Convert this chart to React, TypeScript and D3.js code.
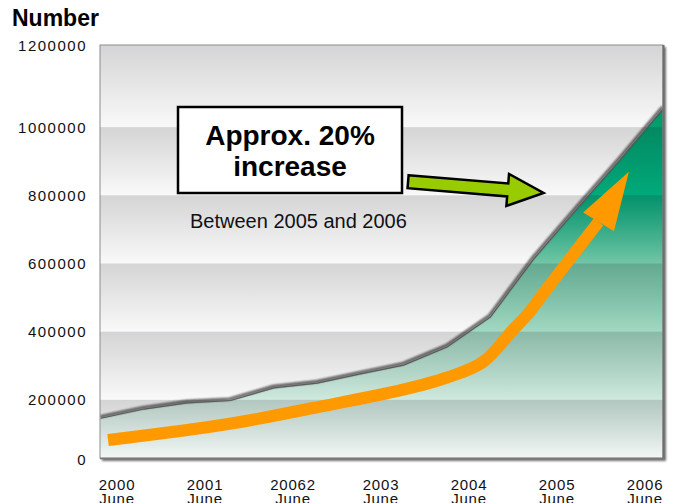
import React from "react";
import * as d3 from "d3";

// Cumulative count, one sample roughly every half year (Jun 2000 .. Jun 2006)
const counts = [
  146000, 173000, 191000, 198000, 235000, 249000, 276000,
  302000, 355000, 443000, 613000, 760000, 905000, 1055000,
];

// Category labels along the bottom
const yearLabels = ["2000", "2001", "20062", "2003", "2004", "2005", "2006"];
const monthLabel = "June";

// Axis ticks
const yTicks = [0, 200000, 400000, 600000, 800000, 1000000, 1200000];

// Trend arrow path in data units: [sample index, value]
const trendPath: [number, number][] = [
  [0.17, 82000], [2.94, 129000], [4.9, 176000], [6.96, 229000],
  [8.0, 265500], [8.83, 311000], [9.52, 405000], [9.91, 458000],
  [10.2, 508000], [11.5, 722000],
];
const trendTip: [number, number] = [12.2, 869000];

// Callout arrow (tail -> tip) in data units
const calloutTail: [number, number] = [7.1, 840000];
const calloutTip: [number, number] = [10.23, 807000];

const W = 676;
const H = 503;
const PLOT = { left: 100, right: 663, top: 45, bottom: 458 };
const FONT = "'Liberation Sans', Arial, Helvetica, sans-serif";

export default function App() {
  const x = d3.scaleLinear().domain([0, counts.length - 1]).range([100.7, 663.5]);
  const y = d3.scaleLinear().domain([0, 1200000]).range([468, 59]);
  const xl = d3.scalePoint<string>().domain(yearLabels).range([117, 645]);
  const [yMin, yMax] = y.domain();

  const area = d3
    .area<number>()
    .x((_, i) => x(i))
    .y0(PLOT.bottom + 2)
    .y1((d) => y(d));
  const edge = d3
    .line<number>()
    .x((_, i) => x(i))
    .y((d) => y(d));

  // horizontal bands between the inner gridlines
  const inner = yTicks.filter((t) => t > yMin && t < yMax);
  const bounds = [PLOT.top, ...inner.map((t) => y(t)).sort((a, b) => a - b), PLOT.bottom];
  const bands = d3.pairs(bounds);

  // trend arrow
  const trendLine = d3
    .line<[number, number]>()
    .x((d) => x(d[0]))
    .y((d) => y(d[1]))
    .curve(d3.curveCatmullRom.alpha(0.5));
  const base = trendPath[trendPath.length - 1];
  const bx = x(base[0]);
  const by = y(base[1]);
  const tx = x(trendTip[0]);
  const ty = y(trendTip[1]);
  const hl = Math.hypot(tx - bx, ty - by);
  const nx = -(ty - by) / hl;
  const ny = (tx - bx) / hl;
  const hw = 18;
  const head = `M${tx},${ty}L${bx + nx * hw},${by + ny * hw}L${bx - nx * hw},${by - ny * hw}Z`;

  // callout block arrow
  const ax0 = x(calloutTail[0]);
  const ay0 = y(calloutTail[1]);
  const ax1 = x(calloutTip[0]);
  const ay1 = y(calloutTip[1]);
  const L = Math.hypot(ax1 - ax0, ay1 - ay0);
  const ang = (Math.atan2(ay1 - ay0, ax1 - ax0) * 180) / Math.PI;
  const sh = 6.5, hh = 16, hlen = 36;
  const block = [
    [0, -sh], [L - hlen, -sh], [L - hlen, -hh], [L, 0],
    [L - hlen, hh], [L - hlen, sh], [0, sh],
  ];

  const areaStops: [number, string][] = [
    [1100000, "#009a6a"],
    [800000, "#00aa7a"],
    [600000, "#72c6a6"],
    [400000, "#a2d8c2"],
    [200000, "#cfe9de"],
    [0, "#f3f7f5"],
  ];
  const span = PLOT.bottom - PLOT.top;
  const stopOffset = (v: number) =>
    Math.max(0, Math.min(1, (Math.min(y(v), PLOT.bottom) - PLOT.top) / span));

  // end labels sit on the frame edges
  const labelY = (v: number) =>
    v === yMax ? PLOT.top + 1 : v === yMin ? PLOT.bottom + 2 : y(v);

  return (
    <svg
      width={W}
      height={H}
      style={{ position: "absolute", left: 0, top: 0, background: "#fff" }}
      fontFamily={FONT}
    >
      <defs>
        <linearGradient id="bandShade" x1="0" y1="0" x2="0" y2="1">
          <stop offset="0" stopColor="#14141e" stopOpacity={0.16} />
          <stop offset="1" stopColor="#14141e" stopOpacity={0.0} />
        </linearGradient>
        <linearGradient
          id="areaFill"
          gradientUnits="userSpaceOnUse"
          x1="0"
          y1={PLOT.top}
          x2="0"
          y2={PLOT.bottom}
        >
          {areaStops.map(([v, c]) => (
            <stop key={v} offset={stopOffset(v)} stopColor={c} />
          ))}
        </linearGradient>
        <filter id="frameShadow" x="-5%" y="-5%" width="110%" height="110%">
          <feGaussianBlur stdDeviation="1.2" />
        </filter>
        <filter id="edgeShadow" x="-5%" y="-5%" width="110%" height="110%">
          <feGaussianBlur stdDeviation="1.3" />
        </filter>
        <clipPath id="plotClip">
          <rect
            x={PLOT.left}
            y={PLOT.top}
            width={PLOT.right - PLOT.left}
            height={PLOT.bottom - PLOT.top}
          />
        </clipPath>
      </defs>

      {/* title */}
      <text x={12} y={26} fontSize={23} fontWeight="bold" fill="#000">
        Number
      </text>

      {/* frame shadow */}
      <rect
        x={PLOT.left + 2}
        y={PLOT.top + 2}
        width={PLOT.right - PLOT.left + 1}
        height={PLOT.bottom - PLOT.top + 1}
        fill="#000"
        opacity={0.55}
        filter="url(#frameShadow)"
      />

      <g clipPath="url(#plotClip)">
        <rect
          x={PLOT.left}
          y={PLOT.top}
          width={PLOT.right - PLOT.left}
          height={PLOT.bottom - PLOT.top}
          fill="#f9f9f9"
        />
        <path d={area(counts) ?? ""} fill="url(#areaFill)" />
        {bands.map(([a, b], i) => (
          <rect
            key={i}
            x={PLOT.left}
            y={a}
            width={PLOT.right - PLOT.left}
            height={b - a}
            fill="url(#bandShade)"
          />
        ))}
        {/* soft shadow along the top edge of the area */}
        <path
          d={edge(counts) ?? ""}
          fill="none"
          stroke="#111"
          strokeOpacity={0.75}
          strokeWidth={2.6}
          transform="translate(-1,-1.5)"
          filter="url(#edgeShadow)"
        />
        <path d={edge(counts) ?? ""} fill="none" stroke="#5a5a5a" strokeWidth={1.2} />

        {/* trend arrow */}
        <path
          d={trendLine(trendPath) ?? ""}
          fill="none"
          stroke="#ff9900"
          strokeWidth={12}
          strokeLinejoin="round"
        />
        <path d={head} fill="#ff9900" />
      </g>

      {/* frame */}
      <rect
        x={PLOT.left}
        y={PLOT.top}
        width={PLOT.right - PLOT.left}
        height={PLOT.bottom - PLOT.top}
        fill="none"
        stroke="#8c8c8c"
        strokeWidth={1}
      />
      <line
        x1={PLOT.right + 0.5}
        x2={PLOT.right + 0.5}
        y1={PLOT.top}
        y2={PLOT.bottom + 1}
        stroke="#6e6e6e"
        strokeWidth={2}
      />
      <line
        x1={PLOT.left}
        x2={PLOT.right + 1}
        y1={PLOT.bottom + 0.5}
        y2={PLOT.bottom + 0.5}
        stroke="#7a7a7a"
        strokeWidth={1.5}
      />

      {/* y axis labels */}
      {yTicks.map((t) => (
        <text
          key={t}
          x={87}
          y={labelY(t)}
          dy="0.36em"
          textAnchor="end"
          fontSize={15}
          letterSpacing={1.5}
          fill="#111"
        >
          {t}
        </text>
      ))}

      {/* x axis labels */}
      {yearLabels.map((lab) => (
        <text
          key={lab}
          x={xl(lab)}
          textAnchor="middle"
          fontSize={15}
          letterSpacing={0.8}
          fill="#111"
        >
          <tspan x={xl(lab)} y={490}>
            {lab}
          </tspan>
          <tspan x={xl(lab)} y={504}>
            {monthLabel}
          </tspan>
        </text>
      ))}

      {/* callout */}
      <rect x={178} y={107} width={224} height={86} fill="#fff" stroke="#000" strokeWidth={2.5} />
      <text x={290} y={145} textAnchor="middle" fontSize={28} fontWeight="bold" fill="#000">
        Approx. 20%
      </text>
      <text x={290} y={176} textAnchor="middle" fontSize={28} fontWeight="bold" fill="#000">
        increase
      </text>
      <text x={190} y={228} fontSize={20} fill="#111">
        Between 2005 and 2006
      </text>

      <path
        d={"M" + block.map((p) => p.join(",")).join("L") + "Z"}
        transform={`translate(${ax0},${ay0}) rotate(${ang})`}
        fill="#99cc00"
        stroke="#000"
        strokeWidth={2.5}
        strokeLinejoin="miter"
      />
    </svg>
  );
}
